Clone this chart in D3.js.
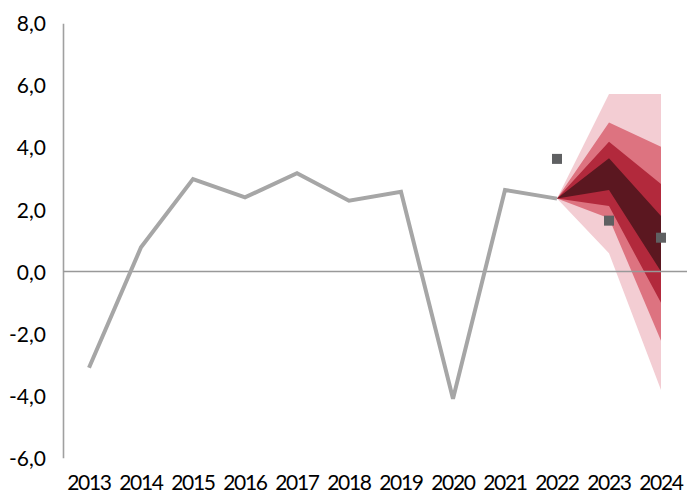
<!DOCTYPE html>
<html>
<head>
<meta charset="utf-8">
<script src="https://cdn.jsdelivr.net/npm/d3@7"></script>
<style>
  html, body { margin: 0; padding: 0; background: #fff; }
  svg { display: block; }
  text { font-family: Lato, "Noto Sans", sans-serif; fill: #000; }
</style>
</head>
<body>
<svg id="chart" width="687" height="495"></svg>
<script>
// ---- data ----
const years = ["2013","2014","2015","2016","2017","2018","2019","2020","2021","2022","2023","2024"];
const actualYears = ["2013","2014","2015","2016","2017","2018","2019","2020","2021","2022"];
const actualValues = [-3.1, 0.78, 2.98, 2.39, 3.17, 2.28, 2.57, -4.1, 2.63, 2.35];

const fanYears = ["2022","2023","2024"];
const lightLow  = [2.35, 0.59, -3.82];
const lightHigh = [2.35, 5.72, 5.72];
const pinkLow   = [2.35, 1.72, -2.23];
const pinkHigh  = [2.35, 4.80, 4.02];
const redLow    = [2.35, 2.11, -1.01];
const redHigh   = [2.35, 4.18, 2.82];
const darkLow   = [2.35, 2.63, 0.0];
const darkHigh  = [2.35, 3.65, 1.79];

const pointYears  = ["2022","2023","2024"];
const pointValues = [3.63, 1.64, 1.09];

const yTicks = [-6, -4, -2, 0, 2, 4, 6, 8];

// ---- layout ----
const svg = d3.select("#chart");
const mLeft = 63, mRight = 687, mTop = 23.3, mBottom = 457.7;

const xb = d3.scaleBand().domain(years).range([mLeft, mRight]).padding(0);
const x = d => xb(d) + xb.bandwidth() / 2;
const y = d3.scaleLinear().domain([-6, 8]).range([mBottom, mTop]);

// ---- fan ----
const bands = [
  { low: lightLow, high: lightHigh, color: "#f3cdd3" },
  { low: pinkLow,  high: pinkHigh,  color: "#dd7380" },
  { low: redLow,   high: redHigh,   color: "#b2293c" },
  { low: darkLow,  high: darkHigh,  color: "#5b1720" }
];
const area = d3.area()
  .x((d, i) => x(fanYears[i]))
  .y0(d => y(d[0]))
  .y1(d => y(d[1]));
bands.forEach(b => {
  const pts = fanYears.map((yr, i) => [b.low[i], b.high[i]]);
  svg.append("path")
    .attr("d", area(pts))
    .attr("fill", b.color)
    .attr("stroke", "none");
});

// ---- y axis ----
const fmt = v => d3.format(".1f")(v).replace(".", ",").replace("−", "-");
const yAxis = d3.axisLeft(y).tickValues(yTicks).tickSize(0).tickSizeOuter(0).tickPadding(17).tickFormat(fmt);
const gy = svg.append("g").attr("transform", `translate(${mLeft},0)`).call(yAxis);
gy.select(".domain").attr("stroke", "#a0a0a0").attr("stroke-width", 1.6);
gy.selectAll("text").style("font-size", "21px").style("font-family", "Lato, sans-serif").attr("fill", "#000").attr("dy", "0.36em");

// zero line
svg.append("line")
  .attr("x1", mLeft).attr("x2", mRight)
  .attr("y1", y(0)).attr("y2", y(0))
  .attr("stroke", "#999999").attr("stroke-width", 1.6);

// ---- x labels ----
const xAxis = d3.axisBottom(xb).tickSize(0).tickPadding(0);
const gx = svg.append("g").attr("transform", `translate(0,${mBottom})`).call(xAxis);
gx.select(".domain").remove();
gx.selectAll("text")
  .attr("y", 32).attr("dy", 0)
  .style("font-size", "21px")
  .style("letter-spacing", "-1.3px")
  .style("font-family", "Lato, sans-serif")
  .attr("fill", "#000");

// ---- actual line ----
const line = d3.line().x((d, i) => x(actualYears[i])).y(d => y(d));
svg.append("path")
  .attr("d", line(actualValues))
  .attr("fill", "none")
  .attr("stroke", "#a6a6a6")
  .attr("stroke-width", 4);

// ---- points ----
svg.selectAll("rect.pt")
  .data(pointValues)
  .join("rect")
  .attr("class", "pt")
  .attr("x", (d, i) => x(pointYears[i]) - 5)
  .attr("y", d => y(d) - 5)
  .attr("width", 10).attr("height", 10)
  .attr("fill", "#5f6062");
</script>
</body>
</html>
